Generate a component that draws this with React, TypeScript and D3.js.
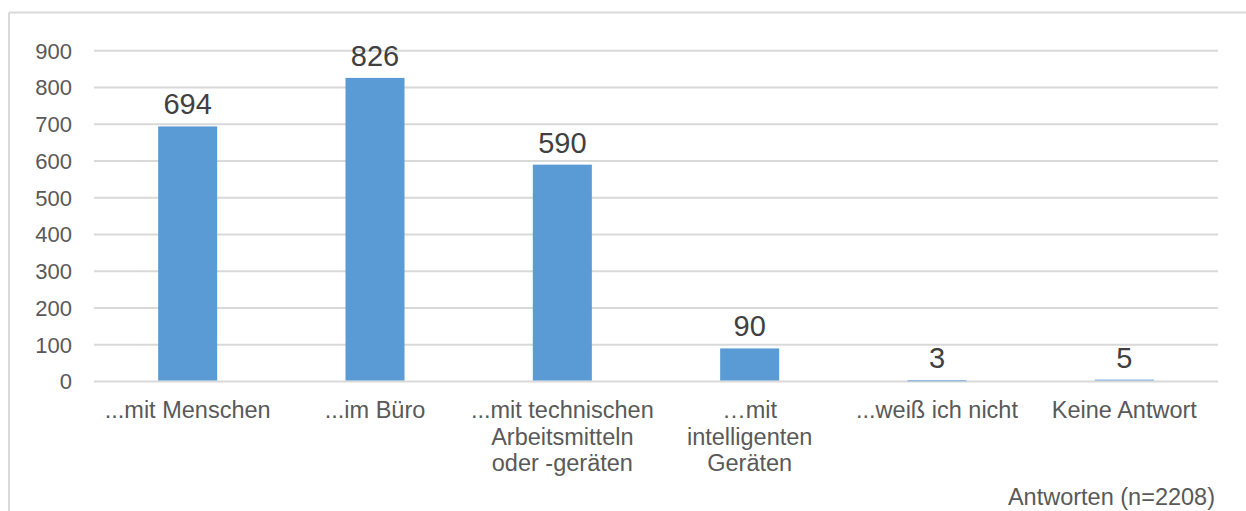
import React from "react";
import * as d3 from "d3";

const categories: string[][] = [
  ["...mit Menschen"],
  ["...im Büro"],
  ["...mit technischen", "Arbeitsmitteln", "oder -geräten"],
  ["…mit", "intelligenten", "Geräten"],
  ["...weiß ich nicht"],
  ["Keine Antwort"],
];
const values: number[] = [694, 826, 590, 90, 3, 5];
const yTicks: number[] = [0, 100, 200, 300, 400, 500, 600, 700, 800, 900];
const footnote = "Antworten (n=2208)";

const W = 1246;
const H = 511;
const plot = { left: 94, right: 1218, top: 50.7, bottom: 381.5 };

export default function App() {
  const x = d3
    .scaleBand<number>()
    .domain(values.map((_, i) => i))
    .range([plot.left, plot.right])
    .padding(0);
  const y = d3.scaleLinear().domain([0, 900]).range([plot.bottom, plot.top]);
  const barW = x.bandwidth() * 0.315;
  const font = "'Liberation Sans', Arial, sans-serif";

  return (
    <svg
      width={W}
      height={H}
      style={{ position: "absolute", left: 0, top: 0, background: "#fff" }}
      fontFamily={font}
    >
      <rect x={0} y={0} width={W} height={H} fill="#fff" />
      {/* chart frame */}
      <line x1={9} x2={W} y1={12.5} y2={12.5} stroke="#d9d9d9" strokeWidth={2} />
      <line x1={9} x2={9} y1={12.5} y2={H} stroke="#d9d9d9" strokeWidth={2} />

      {/* grid */}
      {yTicks.map((t) => (
        <g key={t}>
          <line
            x1={plot.left}
            x2={plot.right}
            y1={y(t)}
            y2={y(t)}
            stroke="#d9d9d9"
            strokeWidth={2}
          />
          <text
            x={72}
            y={y(t)}
            dy="0.36em"
            textAnchor="end"
            fontSize={22}
            fill="#595959"
          >
            {t}
          </text>
        </g>
      ))}

      {/* bars */}
      {values.map((v, i) => {
        const cx = (x(i) as number) + x.bandwidth() / 2;
        return (
          <g key={i}>
            <rect
              x={cx - barW / 2}
              y={y(v)}
              width={barW}
              height={Math.max(0.8, y(0) - y(v) - 1)}
              fill="#5b9bd5"
            />
            <text
              x={cx}
              y={y(v) - 12}
              textAnchor="middle"
              fontSize={29}
              fill="#404040"
            >
              {v}
            </text>
            {categories[i].map((line, j) => (
              <text
                key={j}
                x={cx}
                y={418 + j * 26.5}
                textAnchor="middle"
                fontSize={23.5}
                fill="#595959"
              >
                {line}
              </text>
            ))}
          </g>
        );
      })}

      <text x={1215} y={505} textAnchor="end" fontSize={23.5} fill="#595959">
        {footnote}
      </text>
    </svg>
  );
}
